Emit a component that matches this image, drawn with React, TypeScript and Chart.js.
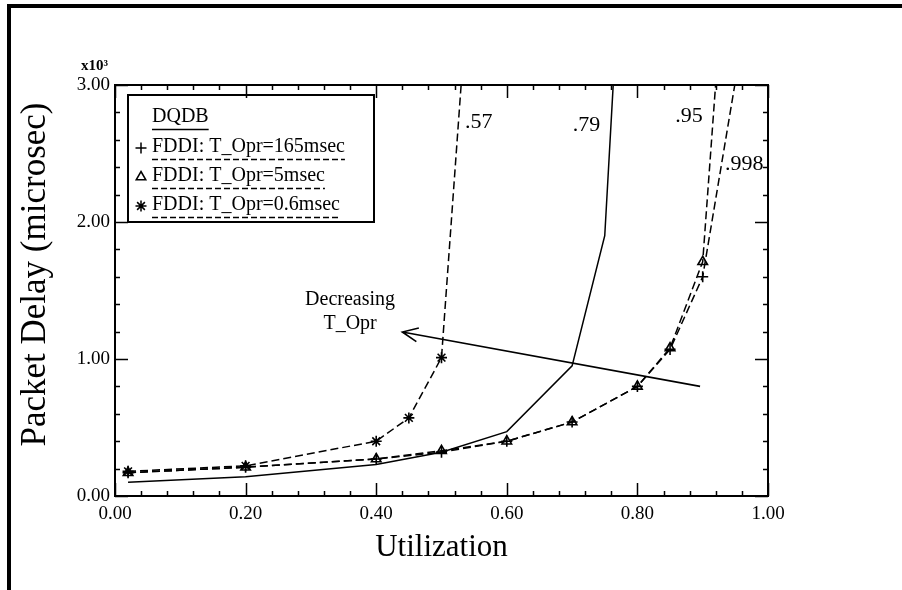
import React, { useEffect, useRef } from "react";
import { Chart, registerables } from "chart.js";

Chart.register(...registerables);

// ---- data (delay in units of 10^3 microsec) ----
const seriesLabels = [
  "DQDB",
  "FDDI: T_Opr=165msec",
  "FDDI: T_Opr=5msec",
  "FDDI: T_Opr=0.6msec",
];
const utilDQDB = [0.02, 0.2, 0.4, 0.5, 0.6, 0.7, 0.75, 0.77];
const delayDQDB = [0.1, 0.14, 0.23, 0.32, 0.47, 0.95, 1.9, 3.6];
const util165 = [0.02, 0.2, 0.4, 0.5, 0.6, 0.7, 0.8, 0.85, 0.9, 0.96];
const delay165 = [0.17, 0.21, 0.27, 0.32, 0.4, 0.54, 0.8, 1.07, 1.6, 3.31];
const util5 = [0.02, 0.2, 0.4, 0.5, 0.6, 0.7, 0.8, 0.85, 0.9, 0.93];
const delay5 = [0.17, 0.21, 0.27, 0.33, 0.4, 0.54, 0.8, 1.08, 1.71, 3.67];
const util06 = [0.02, 0.2, 0.4, 0.45, 0.5, 0.55];
const delay06 = [0.18, 0.22, 0.4, 0.57, 1.01, 4.32];

// curve annotations: text, x, y (data coords)
const curveLabels = [".57", ".79", ".95", ".998"];
const curveLabelX = [0.536, 0.701, 0.858, 0.934];
const curveLabelY = [2.73, 2.71, 2.77, 2.42];

const arrowLines = ["Decreasing", "T_Opr"];
const arrowTextX = 0.36;
const arrowTextY = [1.43, 1.26];
const arrowFrom = [0.896, 0.8];
const arrowTo = [0.44, 1.197];

const xTitle = "Utilization";
const yTitle = "Packet Delay (microsec)";
const yMultiplier = "x10\u00B3";
const xMin = 0, xMax = 1, xMajor = 0.2, xMinor = 0.04;
const yMin = 0, yMax = 3, yMajor = 1, yMinor = 0.2;

const SERIF = "'Liberation Serif', 'DejaVu Serif', serif";

function pts(xs: number[], ys: number[]) {
  return xs.map((x, i) => ({ x, y: ys[i] }));
}

function drawMarker(ctx: CanvasRenderingContext2D, kind: string, x: number, y: number, r: number) {
  ctx.beginPath();
  if (kind === "cross") {
    ctx.moveTo(x - r, y); ctx.lineTo(x + r, y);
    ctx.moveTo(x, y - r); ctx.lineTo(x, y + r);
  } else if (kind === "triangle") {
    ctx.moveTo(x, y - r);
    ctx.lineTo(x + r * 0.87, y + r * 0.5);
    ctx.lineTo(x - r * 0.87, y + r * 0.5);
    ctx.closePath();
  } else if (kind === "star") {
    ctx.moveTo(x - r, y); ctx.lineTo(x + r, y);
    ctx.moveTo(x, y - r); ctx.lineTo(x, y + r);
    const d = r * 0.707;
    ctx.moveTo(x - d, y - d); ctx.lineTo(x + d, y + d);
    ctx.moveTo(x - d, y + d); ctx.lineTo(x + d, y - d);
  }
  ctx.stroke();
}

const legendMarkers = ["", "cross", "triangle", "star"];
const legendDashed = [false, true, true, true];

const decoPlugin = {
  id: "deco",
  beforeDraw(chart: any) {
    const ctx = chart.ctx;
    ctx.save();
    ctx.fillStyle = "#fff";
    ctx.fillRect(0, 0, chart.width, chart.height);
    ctx.restore();
  },
  afterDraw(chart: any) {
    const ctx: CanvasRenderingContext2D = chart.ctx;
    const ca = chart.chartArea;
    const xs = chart.scales.x;
    const ys = chart.scales.y;
    ctx.save();
    ctx.strokeStyle = "#000";
    ctx.fillStyle = "#000";

    // figure frame (top and left bars)
    ctx.fillRect(7, 4, chart.width - 7, 4);
    ctx.fillRect(7, 4, 4, chart.height - 4);

    // plot box
    ctx.lineWidth = 2;
    ctx.strokeRect(ca.left, ca.top, ca.right - ca.left, ca.bottom - ca.top);

    // tick marks (inward, all four sides)
    ctx.lineWidth = 1.5;
    ctx.beginPath();
    const nx = Math.round((xMax - xMin) / xMinor);
    const perX = Math.round(xMajor / xMinor);
    for (let i = 0; i <= nx; i++) {
      const px = Math.round(xs.getPixelForValue(xMin + i * xMinor)) + 0.5;
      const len = i % perX === 0 ? 13 : 5;
      ctx.moveTo(px, ca.bottom); ctx.lineTo(px, ca.bottom - len);
      ctx.moveTo(px, ca.top); ctx.lineTo(px, ca.top + len);
    }
    const ny = Math.round((yMax - yMin) / yMinor);
    const perY = Math.round(yMajor / yMinor);
    for (let i = 0; i <= ny; i++) {
      const py = Math.round(ys.getPixelForValue(yMin + i * yMinor)) + 0.5;
      const len = i % perY === 0 ? 13 : 5;
      ctx.moveTo(ca.left, py); ctx.lineTo(ca.left + len, py);
      ctx.moveTo(ca.right, py); ctx.lineTo(ca.right - len, py);
    }
    ctx.stroke();

    // y axis title
    ctx.save();
    ctx.font = `35px ${SERIF}`;
    ctx.textAlign = "center";
    ctx.textBaseline = "middle";
    ctx.translate(36, (ca.top + ca.bottom) / 2 - 16);
    ctx.rotate(-Math.PI / 2);
    ctx.fillText(yTitle, 0, 0);
    ctx.restore();

    // multiplier label
    ctx.font = `bold 15px ${SERIF}`;
    ctx.textAlign = "right";
    ctx.textBaseline = "middle";
    ctx.fillText(yMultiplier, ca.left - 7, ca.top - 19);

    // legend box
    const L = ca.left + 13, T = ca.top + 10, W = 246, H = 127;
    ctx.lineWidth = 2;
    ctx.strokeRect(L, T, W, H);
    ctx.font = `20px ${SERIF}`;
    ctx.textAlign = "left";
    ctx.textBaseline = "middle";
    const rowY = [22, 52, 81, 110];
    seriesLabels.forEach((lab, i) => {
      const cy = T + rowY[i];
      const tx = L + 24;
      ctx.fillText(lab, tx, cy);
      const w = ctx.measureText(lab).width;
      ctx.lineWidth = 1.3;
      ctx.setLineDash(legendDashed[i] ? [6, 3] : []);
      ctx.beginPath();
      ctx.moveTo(tx, cy + 12.5);
      ctx.lineTo(tx + w, cy + 12.5);
      ctx.stroke();
      ctx.setLineDash([]);
      if (legendMarkers[i]) {
        ctx.lineWidth = 1.5;
        drawMarker(ctx, legendMarkers[i], L + 13, cy + 1, 5.5);
      }
    });

    // curve labels
    ctx.font = `22px ${SERIF}`;
    ctx.textAlign = "left";
    ctx.textBaseline = "middle";
    curveLabels.forEach((t, i) => {
      ctx.fillText(t, xs.getPixelForValue(curveLabelX[i]), ys.getPixelForValue(curveLabelY[i]));
    });

    // arrow annotation
    ctx.font = `20px ${SERIF}`;
    ctx.textAlign = "center";
    arrowLines.forEach((t, i) => {
      ctx.fillText(t, xs.getPixelForValue(arrowTextX), ys.getPixelForValue(arrowTextY[i]));
    });
    const x1 = xs.getPixelForValue(arrowFrom[0]);
    const y1 = ys.getPixelForValue(arrowFrom[1]);
    const x2 = xs.getPixelForValue(arrowTo[0]);
    const y2 = ys.getPixelForValue(arrowTo[1]);
    ctx.lineWidth = 1.6;
    ctx.beginPath();
    ctx.moveTo(x1, y1);
    ctx.lineTo(x2, y2);
    const ang = Math.atan2(y1 - y2, x1 - x2);
    const hl = 17, ha = 0.42;
    ctx.moveTo(x2 + hl * Math.cos(ang - ha), y2 + hl * Math.sin(ang - ha));
    ctx.lineTo(x2, y2);
    ctx.lineTo(x2 + hl * Math.cos(ang + ha), y2 + hl * Math.sin(ang + ha));
    ctx.stroke();

    ctx.restore();
  },
};

export default function App() {
  const ref = useRef<HTMLCanvasElement | null>(null);
  useEffect(() => {
    if (!ref.current) return;
    const dash = [8, 4];
    const common = {
      borderColor: "#000",
      borderWidth: 1.5,
      pointBorderColor: "#000",
      pointBackgroundColor: "rgba(0,0,0,0)",
      pointBorderWidth: 1.6,
      pointRadius: 5.5,
      tension: 0,
      fill: false,
    };
    const chart = new Chart(ref.current, {
      type: "line",
      data: {
        datasets: [
          { ...common, label: seriesLabels[0], data: pts(utilDQDB, delayDQDB), pointRadius: 0 },
          { ...common, label: seriesLabels[1], data: pts(util165, delay165), borderDash: dash, pointStyle: "cross" },
          { ...common, label: seriesLabels[2], data: pts(util5, delay5), borderDash: dash, pointStyle: "triangle" },
          { ...common, label: seriesLabels[3], data: pts(util06, delay06), borderDash: dash, pointStyle: "star" },
        ],
      },
      options: {
        animation: false,
        responsive: false,
        devicePixelRatio: 1,
        layout: { padding: { left: 0, right: 134, top: 85, bottom: 0 } },
        plugins: { legend: { display: false }, tooltip: { enabled: false } },
        scales: {
          x: {
            type: "linear",
            min: xMin,
            max: xMax,
            grid: { display: false, drawTicks: false },
            border: { display: false },
            ticks: {
              stepSize: xMajor,
              color: "#000",
              padding: 7,
              font: { family: SERIF, size: 19 },
              callback: (v: any) => Number(v).toFixed(2),
            },
            title: {
              display: true,
              text: xTitle,
              color: "#000",
              font: { family: SERIF, size: 31, lineHeight: 1 },
              padding: { top: 0, bottom: 27 },
            },
            afterFit: (s: any) => { s.height = 94; },
          },
          y: {
            type: "linear",
            min: yMin,
            max: yMax,
            grid: { display: false, drawTicks: false },
            border: { display: false },
            ticks: {
              stepSize: yMajor,
              color: "#000",
              padding: 5,
              font: { family: SERIF, size: 19 },
              callback: (v: any) => Number(v).toFixed(2),
            },
            title: { display: false, text: yTitle },
            afterFit: (s: any) => { s.width = 115; },
          },
        },
      },
      plugins: [decoPlugin],
    });
    return () => chart.destroy();
  }, []);
  return (
    <div style={{ position: "absolute", left: 0, top: 0, width: 902, height: 590, background: "#fff" }}>
      <canvas ref={ref} width={902} height={590} style={{ display: "block" }} />
    </div>
  );
}
